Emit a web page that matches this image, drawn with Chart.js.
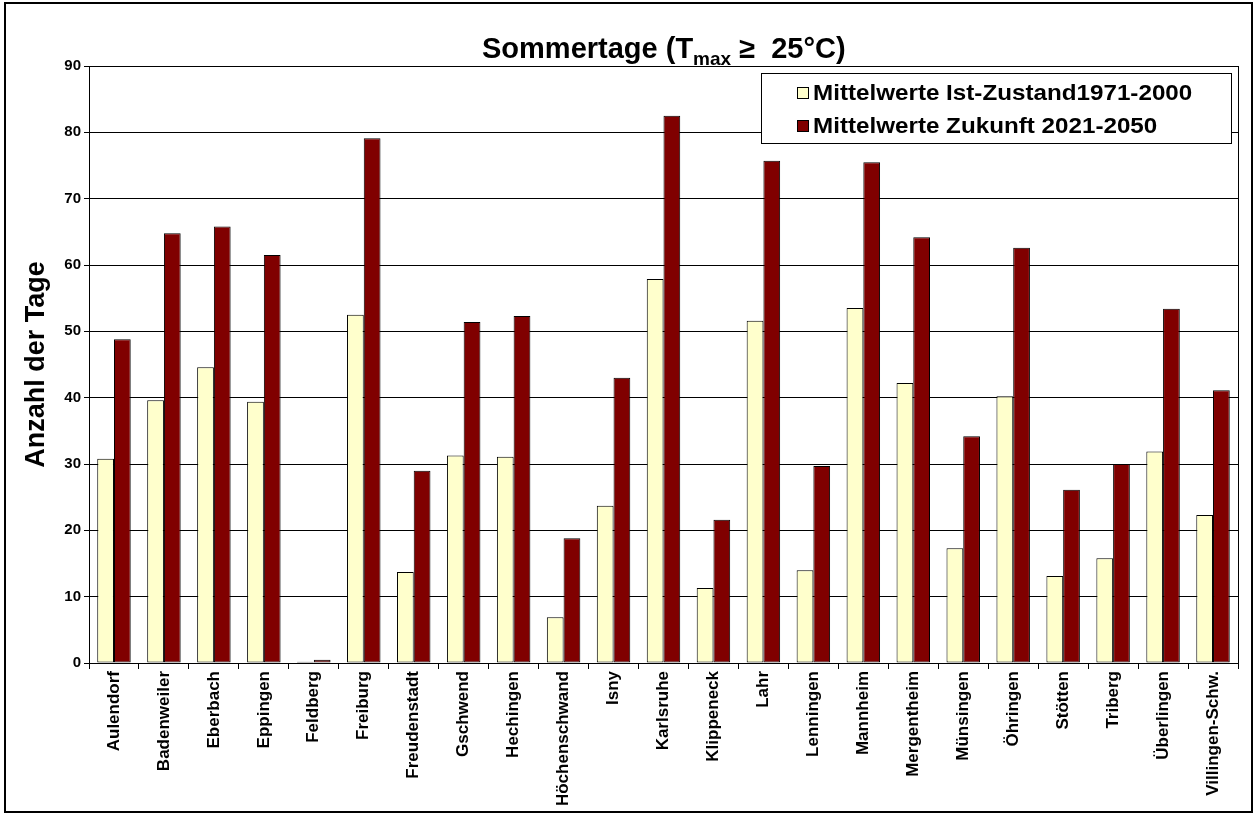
<!DOCTYPE html>
<html>
<head>
<meta charset="utf-8">
<script src="https://cdn.jsdelivr.net/npm/chart.js@4.4.0/dist/chart.umd.min.js"></script>
<style>
  html, body { margin: 0; padding: 0; background: #fff; }
  #wrap { width: 1258px; height: 816px; position: relative; }
</style>
</head>
<body>
<div id="wrap"><canvas id="grafico" width="1258" height="816"></canvas></div>
<script>
const stationen = ['Aulendorf', 'Badenweiler', 'Eberbach', 'Eppingen', 'Feldberg', 'Freiburg',
  'Freudenstadt', 'Gschwend', 'Hechingen', 'Höchenschwand', 'Isny', 'Karlsruhe', 'Klippeneck',
  'Lahr', 'Lenningen', 'Mannheim', 'Mergentheim', 'Münsingen', 'Öhringen', 'Stötten', 'Triberg',
  'Überlingen', 'Villingen-Schw.'];

const istZustand = [30.8, 39.6, 44.6, 39.4, 0.2, 52.5, 13.7, 31.3, 31.1, 6.9, 23.7, 57.9, 11.3,
  51.6, 14.0, 53.5, 42.2, 17.3, 40.2, 13.1, 15.8, 31.9, 22.3];

const zukunft = [48.8, 64.8, 65.8, 61.5, 0.5, 79.1, 29.0, 51.4, 52.3, 18.8, 43.0, 82.5, 21.6,
  75.7, 29.7, 75.5, 64.2, 34.2, 62.6, 26.1, 30.0, 53.4, 41.1];

const yTicks = [0, 10, 20, 30, 40, 50, 60, 70, 80, 90];

const FONT = 'Arial, "Liberation Sans", sans-serif';

// Rahmen, Titel und Legende selbst zeichnen
const extras = {
  id: 'extras',
  afterDraw(chart) {
    const ctx = chart.ctx;
    const a = chart.chartArea;
    ctx.save();
    // Rahmen der Zeichenfläche
    ctx.strokeStyle = '#000';
    ctx.lineWidth = 1;
    ctx.strokeRect(Math.round(a.left) + 0.5, Math.round(a.top) + 0.5,
      Math.round(a.right - a.left), Math.round(a.bottom - a.top));
    // äußerer Rahmen
    ctx.lineWidth = 2;
    ctx.strokeRect(5, 3, 1247, 809);

    // Titel mit Index
    const teile = [
      { t: 'Sommertage (T', f: 'bold 29px ' + FONT, dy: 0 },
      { t: 'max', f: 'bold 19px ' + FONT, dy: 7 },
      { t: ' \u2265  25°C)', f: 'bold 29px ' + FONT, dy: 0 }
    ];
    let breite = 0;
    teile.forEach(p => { ctx.font = p.f; breite += ctx.measureText(p.t).width; });
    let x = 482;
    ctx.fillStyle = '#000';
    ctx.textBaseline = 'alphabetic';
    teile.forEach(p => {
      ctx.font = p.f;
      ctx.fillText(p.t, x, 58 + p.dy);
      x += ctx.measureText(p.t).width;
    });

    // Legende
    const lx = 761, ly = 73, lw = 470, lh = 70;
    ctx.fillStyle = '#fff';
    ctx.fillRect(lx, ly, lw, lh);
    ctx.lineWidth = 1;
    ctx.strokeStyle = '#000';
    ctx.strokeRect(lx + 0.5, ly + 0.5, lw, lh);
    ctx.font = 'bold 22px ' + FONT;
    ctx.textBaseline = 'middle';
    chart.data.datasets.forEach((ds, i) => {
      const yy = ly + 20 + i * 33;
      ctx.fillStyle = ds.backgroundColor;
      ctx.fillRect(797.5, yy - 5.5, 11, 11);
      ctx.strokeRect(797.5, yy - 5.5, 11, 11);
      ctx.fillStyle = '#000';
      // Schrift etwas breiter ziehen wie im Original
      ctx.save();
      ctx.translate(813, yy + 1);
      ctx.scale(1.1, 1);
      ctx.fillText(ds.label, 0, 0);
      ctx.restore();
    });
    ctx.restore();
  }
};

new Chart(document.getElementById('grafico').getContext('2d'), {
  type: 'bar',
  data: {
    labels: stationen,
    datasets: [
      {
        label: 'Mittelwerte Ist-Zustand1971-2000',
        data: istZustand,
        backgroundColor: '#FFFFCC',
        borderColor: '#000',
        borderWidth: 1,
        borderSkipped: false,
        categoryPercentage: 0.67,
        barPercentage: 1.0
      },
      {
        label: 'Mittelwerte Zukunft 2021-2050',
        data: zukunft,
        backgroundColor: '#800000',
        borderColor: '#000',
        borderWidth: 1,
        borderSkipped: false,
        categoryPercentage: 0.67,
        barPercentage: 1.0
      }
    ]
  },
  options: {
    responsive: false,
    animation: false,
    layout: { padding: { left: 0, top: 66, right: 20, bottom: 0 } },
    scales: {
      x: {
        grid: { display: true, drawOnChartArea: false, color: '#000', tickLength: 6, offset: true },
        border: { color: '#000' },
        ticks: {
          color: '#000',
          font: { family: FONT, size: 17, weight: 'bold' },
          minRotation: 90,
          maxRotation: 90,
          autoSkip: false,
          padding: 2
        },
        afterFit: s => { s.height = 153; }
      },
      y: {
        min: 0,
        max: 90,
        afterBuildTicks: s => { s.ticks = yTicks.map(v => ({ value: v })); },
        grid: { color: '#000', tickLength: 5 },
        border: { color: '#000' },
        ticks: {
          color: '#000',
          font: { family: FONT, size: 15, weight: 'bold' },
          padding: 3
        },
        title: {
          display: true,
          text: 'Anzahl der Tage',
          color: '#000',
          font: { family: FONT, size: 27, weight: 'bold' },
          padding: { top: 20, bottom: 0 }
        },
        afterFit: s => { s.width = 89; }
      }
    },
    plugins: {
      legend: { display: false },
      title: { display: false },
      tooltip: { enabled: false }
    }
  },
  plugins: [extras]
});
</script>
</body>
</html>
